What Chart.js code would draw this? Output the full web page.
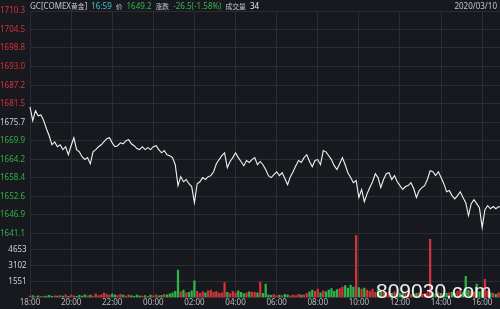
<!DOCTYPE html>
<html>
<head>
<meta charset="utf-8">
<script src="https://cdn.jsdelivr.net/npm/chart.js@4.4.1/dist/chart.umd.min.js"></script>
<style>
  html, body { margin: 0; padding: 0; background: #17191e; }
  #wrap { position: relative; width: 500px; height: 309px; overflow: hidden; }
  #head { position: absolute; left: 30px; top: 0; height: 12px; font: 8px "Noto Sans", "Noto Sans CJK SC", sans-serif; color: #c4c6ca; line-height: 12px; white-space: nowrap; }
  #head > span { margin-right: 4px; }
  #head .cn { font-family: "Noto Sans CJK SC", sans-serif; font-size: 6.8px; }
  #date { position: absolute; right: 3px; top: 0; font: 8px "Noto Sans", sans-serif; line-height: 12px; color: #c4c6ca; }
  #mark { position: absolute; left: 376px; top: 279px; font: 21px "Liberation Sans", Arial, sans-serif; color: rgba(255,255,255,0.93); }
</style>
</head>
<body>
<div id="wrap">
  <canvas id="gcChart" width="500" height="309"></canvas>
  <div id="head">
    <span>GC[COMEX<span class="cn">黄金</span>]</span><span style="color:#3fc7c7">16:59</span><span class="cn">价</span><span style="color:#35b552">1649.2</span><span class="cn">涨跌</span><span style="color:#35b552">-26.5(-1.58%)</span><span class="cn">成交量</span><span style="color:#e8e8e8">34</span>
  </div>
  <div id="date">2020/03/10</div>
  <div id="mark">809030.com</div>
</div>
<script>
// minutes since 18:00, one sample every 8 minutes
const stepMinutes = 8;
const prices = [
  1680.5, 1676.2, 1679.3, 1677.7, 1678.0, 1676.2, 1673.7, 1671.5, 1668.7, 1669.6,
  1668.1, 1668.7, 1667.2, 1668.1, 1665.6, 1668.4, 1670.9, 1667.2, 1666.5, 1665.0,
  1664.1, 1664.7, 1662.8, 1666.5, 1667.2, 1668.1, 1668.7, 1669.7, 1670.6, 1670.9,
  1669.3, 1668.1, 1668.4, 1669.3, 1669.0, 1670.0, 1670.3, 1669.0, 1668.4, 1667.5,
  1667.2, 1668.1, 1667.2, 1667.8, 1667.2, 1668.1, 1668.4, 1667.2, 1666.2, 1666.9,
  1665.6, 1665.3, 1664.7, 1662.5, 1656.0, 1658.8, 1657.2, 1657.9, 1656.6, 1655.7,
  1650.7, 1656.6, 1657.2, 1658.5, 1657.9, 1658.8, 1659.1, 1660.3, 1662.8, 1664.1,
  1665.3, 1666.2, 1661.6, 1663.5, 1664.7, 1666.2, 1664.7, 1663.5, 1662.2, 1663.8,
  1663.2, 1664.1, 1664.7, 1662.5, 1663.5, 1662.5, 1661.0, 1659.1, 1658.5, 1659.4,
  1660.3, 1659.1, 1660.0, 1658.2, 1656.3, 1658.8, 1660.3, 1662.2, 1663.8, 1663.2,
  1664.7, 1665.6, 1663.5, 1661.9, 1663.8, 1664.1, 1662.5, 1666.9, 1666.5, 1665.3,
  1664.1, 1662.2, 1661.0, 1662.8, 1664.7, 1662.5, 1660.0, 1658.5, 1656.9, 1657.6,
  1652.3, 1654.8, 1651.0, 1653.5, 1655.4, 1657.2, 1659.7, 1658.5, 1655.4, 1657.9,
  1659.7, 1660.0, 1657.9, 1659.1, 1657.2, 1656.0, 1654.8, 1655.7, 1656.0, 1656.9,
  1655.1, 1652.3, 1654.5, 1655.4, 1656.0, 1657.9, 1660.6, 1660.3, 1659.1, 1660.3,
  1658.5, 1656.6, 1654.1, 1654.5, 1652.9, 1651.9, 1652.9, 1654.1, 1652.3, 1650.7,
  1646.7, 1650.4, 1651.6, 1650.4, 1649.1, 1643.0, 1648.5, 1649.8, 1648.8, 1649.5,
  1648.8, 1649.5, 1649.2
];
const volumes = [
  120, 180, 90, 150, 110, 80, 140, 200, 100, 160,
  120, 180, 130, 250, 110, 220, 150, 100, 200, 140,
  260, 160, 220, 130, 350, 180, 260, 420, 300, 220,
  330, 250, 180, 300, 220, 130, 250, 180, 110, 220,
  150, 130, 180, 100, 220, 160, 260, 150, 200, 300,
  250, 350, 450, 600, 2650, 550, 700, 450, 500, 650,
  1600, 600, 400, 550, 450, 650, 700, 500, 600, 400,
  450, 1450, 500, 380, 600, 450, 650, 500, 380, 450,
  550, 500, 500, 450, 1500, 400, 1300, 250, 200, 280,
  160, 220, 180, 300, 250, 150, 220, 180, 300, 220,
  260, 380, 550, 700, 600, 800, 450, 650, 550, 700,
  850, 600, 750, 850, 1000, 1150, 900, 1200, 1000, 6000,
  950, 800, 900, 700, 600, 800, 500, 700, 600, 500,
  400, 500, 400, 550, 300, 400, 450, 300, 400, 250,
  300, 400, 450, 300, 400, 450, 5650, 400, 300, 450,
  400, 300, 400, 450, 500, 400, 600, 800, 500, 2050,
  700, 600, 500, 1300, 550, 700, 1750, 650, 450, 400,
  300, 450, 250
];
const prevClose = 1675.7;
const priceTicks = [1641.1, 1646.9, 1652.6, 1658.4, 1664.2, 1669.9, 1675.7, 1681.5, 1687.2, 1693.0, 1698.8, 1704.5, 1710.3];
const volumeTicks = [0, 1551, 3102, 4653];
const volumeMax = 6204;
const timeLabels = ['18:00', '20:00', '22:00', '00:00', '02:00', '04:00', '06:00', '08:00', '10:00', '12:00', '14:00', '16:00'];

const red = '#d3343c';
const green = '#2fb34a';
const gridColor = '#2a2d33';

const pricePoints = prices.map((p, i) => ({ x: i * stepMinutes, y: p }));
const volumePoints = volumes.map((v, i) => ({ x: i * stepMinutes, y: v }));
const volumeColors = prices.map((p, i) => (i > 0 && p < prices[i - 1]) ? green : red);

const ctx = document.getElementById('gcChart').getContext('2d');
new Chart(ctx, {
  data: {
    datasets: [{
      type: 'line',
      data: pricePoints,
      yAxisID: 'y',
      borderColor: '#f2f2f2',
      borderWidth: 1.1,
      pointRadius: 0,
      tension: 0,
      clip: 8
    }, {
      type: 'bar',
      data: volumePoints,
      yAxisID: 'yVol',
      backgroundColor: volumeColors,
      barThickness: 1.6,
      clip: 8
    }]
  },
  options: {
    responsive: false,
    animation: false,
    layout: { padding: { top: 11, right: 0, left: 0, bottom: 0 } },
    plugins: { legend: { display: false }, tooltip: { enabled: false } },
    scales: {
      x: {
        type: 'linear',
        offset: false,
        min: 0,
        max: 1372,
        afterBuildTicks: s => { s.ticks = timeLabels.map((t, i) => ({ value: i * 120 })); },
        ticks: {
          autoSkip: false,
          maxRotation: 0,
          padding: 1,
          color: '#b8babe',
          font: { size: 8, family: 'Noto Sans' },
          callback: (v, i) => timeLabels[i]
        },
        grid: { color: gridColor, drawTicks: false, offset: false },
        border: { color: gridColor }
      },
      yVol: {
        type: 'linear',
        stack: 'main',
        stackWeight: 64,
        min: 0,
        max: volumeMax,
        afterBuildTicks: s => { s.ticks = volumeTicks.map(v => ({ value: v })); },
        afterFit: s => { s.width = 30; },
        ticks: {
          autoSkip: false,
          crossAlign: 'far',
          padding: 2,
          font: { size: 8, family: 'Noto Sans' },
          color: '#d0d2d6',
          callback: v => v === 0 ? '' : '    ' + v
        },
        grid: { color: gridColor, drawTicks: false },
        border: { color: gridColor }
      },
      y: {
        type: 'linear',
        stack: 'main',
        stackWeight: 223,
        min: 1641.1,
        max: 1710.3,
        afterBuildTicks: s => { s.ticks = priceTicks.map(v => ({ value: v })); },
        afterFit: s => { s.width = 30; },
        ticks: {
          autoSkip: false,
          crossAlign: 'far',
          padding: 2,
          font: { size: 8, family: 'Noto Sans' },
          color: c => c.tick.value > prevClose + 0.01 ? red : (c.tick.value < prevClose - 0.01 ? green : '#d0d2d6'),
          callback: v => v.toFixed(1)
        },
        grid: { color: gridColor, drawTicks: false },
        border: { color: gridColor }
      }
    }
  }
});
</script>
</body>
</html>
